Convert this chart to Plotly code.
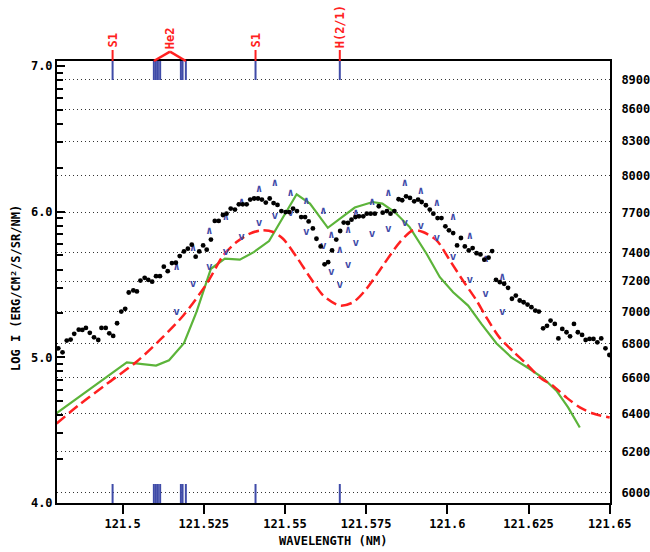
import math
import plotly.graph_objects as go

# ---------------- observed profile (black dots) ----------------
wl_obs = [
    121.4802, 121.4815, 121.4828, 121.4840, 121.4851, 121.4865, 121.4876, 121.4887, 121.4899, 121.4912,
    121.4925, 121.4935, 121.4948, 121.4959, 121.4971, 121.4983, 121.4996, 121.5008, 121.5019, 121.5033,
    121.5044, 121.5055, 121.5068, 121.5079, 121.5091, 121.5103, 121.5115, 121.5127, 121.5139, 121.5152,
    121.5164, 121.5176, 121.5189, 121.5201, 121.5213, 121.5225, 121.5236, 121.5248, 121.5259, 121.5272,
    121.5284, 121.5296, 121.5309, 121.5320, 121.5333, 121.5346, 121.5358, 121.5370, 121.5382, 121.5393,
    121.5405, 121.5417, 121.5429, 121.5441, 121.5453, 121.5465, 121.5477, 121.5489, 121.5502, 121.5513,
    121.5525, 121.5537, 121.5550, 121.5562, 121.5573, 121.5586, 121.5597, 121.5610, 121.5622, 121.5633,
    121.5645, 121.5658, 121.5670, 121.5681, 121.5694, 121.5705, 121.5717, 121.5728, 121.5741, 121.5752,
    121.5764, 121.5777, 121.5789, 121.5801, 121.5814, 121.5825, 121.5837, 121.5850, 121.5861, 121.5873,
    121.5885, 121.5898, 121.5910, 121.5921, 121.5934, 121.5946, 121.5957, 121.5970, 121.5982, 121.5994,
    121.6005, 121.6018, 121.6030, 121.6042, 121.6054, 121.6066, 121.6078, 121.6090, 121.6102, 121.6114,
    121.6127, 121.6138, 121.6150, 121.6162, 121.6175, 121.6187, 121.6199, 121.6211, 121.6223, 121.6235,
    121.6247, 121.6259, 121.6271, 121.6282, 121.6295, 121.6307, 121.6318, 121.6331, 121.6342, 121.6354,
    121.6367, 121.6378, 121.6390, 121.6402, 121.6415, 121.6426, 121.6438, 121.6450, 121.6462, 121.6474,
    121.6487, 121.6499,
]
logi_obs = [
    5.062, 5.034, 5.115, 5.122, 5.161, 5.190, 5.188, 5.202, 5.168, 5.137,
    5.119, 5.202, 5.202, 5.165, 5.147, 5.234, 5.314, 5.333, 5.445, 5.459,
    5.452, 5.527, 5.546, 5.532, 5.519, 5.557, 5.557, 5.622, 5.591, 5.647,
    5.649, 5.695, 5.727, 5.746, 5.773, 5.691, 5.727, 5.768, 5.739, 5.808,
    5.936, 5.936, 5.977, 5.986, 6.021, 6.014, 6.050, 6.050, 6.050, 6.083,
    6.090, 6.090, 6.083, 6.062, 6.090, 6.059, 6.046, 6.004, 5.997, 5.997,
    6.021, 6.004, 5.963, 5.963, 5.933, 5.885, 5.814, 5.761, 5.638, 5.653,
    5.734, 5.808, 5.867, 5.925, 5.922, 5.945, 5.963, 5.968, 5.968, 5.986,
    5.986, 5.986, 6.037, 5.993, 6.004, 5.986, 6.004, 6.085, 6.078, 6.105,
    6.094, 6.071, 6.083, 6.066, 6.044, 6.014, 5.986, 5.956, 5.956, 5.899,
    5.872, 5.853, 5.768, 5.819, 5.761, 5.734, 5.750, 5.715, 5.706, 5.670,
    5.684, 5.729, 5.532, 5.516, 5.505, 5.477, 5.402, 5.424, 5.390, 5.378,
    5.362, 5.344, 5.321, 5.314, 5.199, 5.216, 5.252, 5.229, 5.130, 5.195,
    5.172, 5.144, 5.229, 5.172, 5.154, 5.119, 5.126, 5.126, 5.103, 5.130,
    5.062, 5.016,
]

# ---------------- uncertainty range (blue ^ / v) ----------------
wl_err = [
    121.5166, 121.5217, 121.5267, 121.5318, 121.5366, 121.5420, 121.5469, 121.5517,
    121.5566, 121.5618, 121.5643, 121.5669, 121.5694, 121.5718, 121.5768, 121.5818,
    121.5869, 121.5918, 121.5968, 121.6018, 121.6069, 121.6118, 121.6169,
]
logi_hi = [
    5.619, 5.746, 5.865, 5.963, 6.062, 6.152, 6.197, 6.128,
    6.073, 6.004, 5.837, 5.734, 5.872, 5.986, 6.066, 6.124,
    6.197, 6.142, 6.055, 5.963, 5.830, 5.670, 5.550,
]
logi_lo = [
    5.312, 5.500, 5.619, 5.722, 5.825, 5.918, 5.968, 5.986,
    5.858, 5.765, 5.585, 5.498, 5.631, 5.784, 5.844, 5.878,
    5.922, 5.899, 5.819, 5.684, 5.527, 5.431, 5.309,
]

# ---------------- model profiles ----------------
wl_green = [
    121.4797, 121.5013, 121.5103, 121.5143, 121.5189, 121.5228, 121.5272, 121.5315,
    121.5361, 121.5404, 121.5451, 121.5536, 121.5577, 121.5632, 121.5715, 121.5770,
    121.5800, 121.5838, 121.5884, 121.5936, 121.5977, 121.6018, 121.6064, 121.6105,
    121.6151, 121.6197, 121.6254, 121.6295, 121.6336, 121.6372, 121.6408,
]
logi_green = [
    4.617, 4.965, 4.943, 4.980, 5.097, 5.314, 5.608, 5.677,
    5.670, 5.722, 5.798, 6.119, 6.055, 5.889, 6.028, 6.066,
    6.055, 5.997, 5.894, 5.711, 5.550, 5.447, 5.355, 5.229,
    5.097, 5.000, 4.920, 4.858, 4.771, 4.656, 4.518,
]

wl_red = [
    121.4797, 121.4869, 121.4951, 121.5043, 121.5115, 121.5187, 121.5259, 121.5310,
    121.5351, 121.5392, 121.5428, 121.5464, 121.5494, 121.5536, 121.5577, 121.5618,
    121.5669, 121.5710, 121.5751, 121.5802, 121.5854, 121.5895, 121.5925, 121.5967,
    121.6008, 121.6048, 121.6090, 121.6120, 121.6161, 121.6202, 121.6244, 121.6285,
    121.6325, 121.6367, 121.6408, 121.6449, 121.6500,
]
logi_red = [
    4.546, 4.679, 4.817, 4.970, 5.119, 5.287, 5.505, 5.699,
    5.791, 5.849, 5.872, 5.860, 5.814, 5.688, 5.550, 5.424,
    5.355, 5.378, 5.470, 5.631, 5.791, 5.872, 5.860, 5.803,
    5.665, 5.527, 5.390, 5.275, 5.135, 5.042, 4.954, 4.862,
    4.805, 4.724, 4.656, 4.614, 4.587,
]

# ---------------- line identifications ----------------
line_wl = [121.49692, 121.50963, 121.51025, 121.51087, 121.51157,
           121.51795, 121.51847, 121.51948, 121.54094, 121.56689]
label_text = ["S1", "He2", "S1", "H(2/1)"]
label_wl = [121.49692, 121.5146, 121.54094, 121.56689]
he2_span = [121.50963, 121.51948]

# ---------------- axes ----------------
x_ticks = [121.5, 121.525, 121.55, 121.575, 121.6, 121.625, 121.65]
x_ticktext = ["121.5", "121.525", "121.55", "121.575", "121.6", "121.625", "121.65"]
y_ticks = [4.0, 5.0, 6.0, 7.0]
y_ticktext = ["4.0", "5.0", "6.0", "7.0"]
temp_ticks = [6000, 6200, 6400, 6600, 6800, 7000, 7200, 7400, 7700, 8000, 8300, 8600, 8900]

X_RANGE = [121.4798, 121.6501]
Y_RANGE = [4.0, 7.034]


def temp_to_logi(t):
    """Brightness temperature -> log intensity (Wien form of the Planck law)."""
    return 12.777 - 52237.0 / t


minor_vals = [n + math.log10(k) for n in (4, 5, 6) for k in range(2, 10)]

MONO = "DejaVu Sans Mono"
BLUE = "#3f4ba8"
RED = "#ff2020"
GREEN = "#5cb43a"

fig = go.Figure()

fig.add_trace(go.Scatter(
    x=wl_green, y=logi_green, mode="lines",
    line=dict(color=GREEN, width=2.2), hoverinfo="skip", showlegend=False))
fig.add_trace(go.Scatter(
    x=wl_red, y=logi_red, mode="lines",
    line=dict(color=RED, width=2.5, dash="11px,5px", shape="spline", smoothing=0.8),
    hoverinfo="skip", showlegend=False))
fig.add_trace(go.Scatter(
    x=wl_err, y=logi_hi, mode="text", text=["∧"] * len(wl_err),
    textfont=dict(family=MONO, size=11, color=BLUE, weight="bold"),
    hoverinfo="skip", showlegend=False))
fig.add_trace(go.Scatter(
    x=wl_err, y=logi_lo, mode="text", text=["v"] * len(wl_err),
    textfont=dict(family=MONO, size=11, color=BLUE, weight="bold"),
    hoverinfo="skip", showlegend=False))
fig.add_trace(go.Scatter(
    x=wl_obs, y=logi_obs, mode="markers",
    marker=dict(color="black", size=4.8, line=dict(width=0)),
    hoverinfo="skip", showlegend=False))

# invisible trace to carry the temperature axis
fig.add_trace(go.Scatter(x=[X_RANGE[0]], y=[Y_RANGE[0]], yaxis="y2", mode="markers",
                         marker=dict(opacity=0), hoverinfo="skip", showlegend=False))

shapes = []
tick_len = 19 / 442
for wl in line_wl:
    shapes.append(dict(type="line", xref="x", yref="paper", x0=wl, x1=wl,
                       y0=1 - tick_len, y1=1, line=dict(color=BLUE, width=2), layer="above"))
    shapes.append(dict(type="line", xref="x", yref="paper", x0=wl, x1=wl,
                       y0=0, y1=tick_len, line=dict(color=BLUE, width=2), layer="above"))

annotations = []
for txt, wl in zip(label_text, label_wl):
    if txt == "He2":
        apex = 1 + 9.3 / 442
        for foot in he2_span:
            shapes.append(dict(type="line", xref="x", yref="paper", x0=foot, x1=wl,
                               y0=1, y1=apex, line=dict(color=RED, width=2.5), layer="above"))
        base = apex + 1.5 / 442
    else:
        shapes.append(dict(type="line", xref="x", yref="paper", x0=wl, x1=wl,
                           y0=1, y1=1 + 11 / 442, line=dict(color=RED, width=2), layer="above"))
        base = 1 + 12 / 442
    annotations.append(dict(x=wl, y=base, xref="x", yref="paper", text=txt,
                            textangle=-90, showarrow=False, xanchor="center", yanchor="bottom",
                            borderpad=0,
                            font=dict(family=MONO, size=12, color=RED, weight="bold")))

annotations.append(dict(x=(16 - 57) / 553, y=(503 - 288) / 442, xref="paper", yref="paper",
                        text="LOG I (ERG/CM²/S/SR/NM)", textangle=-90, showarrow=False,
                        xanchor="center", yanchor="middle",
                        font=dict(family=MONO, size=12, color="black", weight="bold")))
annotations.append(dict(x=(333 - 57) / 553, y=(503 - 541) / 442, xref="paper", yref="paper",
                        text="WAVELENGTH (NM)", showarrow=False,
                        xanchor="center", yanchor="middle",
                        font=dict(family=MONO, size=12, color="black", weight="bold")))

tickfont = dict(family=MONO, size=12, color="black", weight="bold")

fig.update_layout(
    width=650, height=552,
    margin=dict(l=57, r=40, t=61, b=49, autoexpand=False),
    paper_bgcolor="white", plot_bgcolor="white",
    xaxis=dict(range=X_RANGE, tickmode="array", tickvals=x_ticks, ticktext=x_ticktext,
               ticks="outside", ticklen=9, tickwidth=2, tickcolor="black",
               showline=True, linewidth=2, linecolor="black", mirror=True,
               showgrid=False, zeroline=False, tickfont=tickfont, automargin=False),
    yaxis=dict(range=Y_RANGE, tickmode="array", tickvals=y_ticks, ticktext=y_ticktext,
               ticks="inside", ticklen=8, tickwidth=2, tickcolor="black",
               minor=dict(tickmode="array", tickvals=minor_vals, ticks="inside",
                          ticklen=6, tickwidth=1.5, tickcolor="black", showgrid=False),
               showline=True, linewidth=2, linecolor="black", mirror=True,
               showgrid=False, zeroline=False, tickfont=tickfont, automargin=False),
    yaxis2=dict(range=Y_RANGE, overlaying="y", side="right", tickmode="array",
                tickvals=[temp_to_logi(t) for t in temp_ticks],
                ticktext=[str(t) for t in temp_ticks],
                ticks="outside", ticklen=8, tickcolor="rgba(0,0,0,0)",
                showline=False, showgrid=True, gridcolor="#333333", gridwidth=1,
                griddash="1px,3px", zeroline=False, tickfont=tickfont, automargin=False),
    shapes=shapes,
    annotations=annotations,
)

fig.write_html("out.html")
